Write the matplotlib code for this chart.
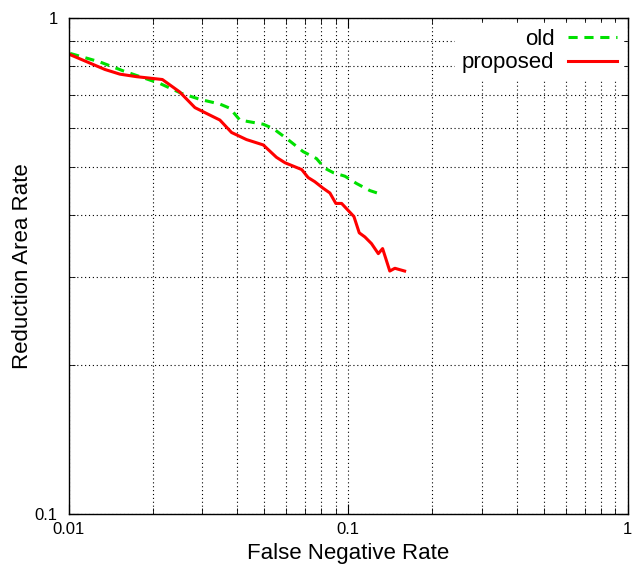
import matplotlib.pyplot as plt
from matplotlib.ticker import LogLocator, FixedLocator, NullFormatter, FixedFormatter

plt.rcParams['font.family'] = ['Liberation Sans', 'DejaVu Sans']

# old method
old_fnr = [0.0101, 0.0129, 0.01563, 0.0212, 0.0253, 0.0294, 0.0347, 0.0377, 0.0409,
           0.0496, 0.0538, 0.0601, 0.0689, 0.0769, 0.0824, 0.0883, 0.0972, 0.107,
           0.1194, 0.1315]
old_rar = [0.849, 0.816, 0.783, 0.738, 0.705, 0.686, 0.671, 0.658, 0.623,
           0.611, 0.599, 0.572, 0.538, 0.521, 0.498, 0.488, 0.480, 0.464,
           0.449, 0.441]

# proposed method
new_fnr = [0.01, 0.01345, 0.01522, 0.01746, 0.0216, 0.0249, 0.02825, 0.0315, 0.0347,
           0.0382, 0.0432, 0.0496, 0.0553, 0.0593, 0.0681, 0.0718, 0.0758, 0.0812,
           0.0859, 0.0902, 0.0946, 0.1047, 0.1094, 0.1146, 0.121, 0.128, 0.1326,
           0.1407, 0.1467, 0.159]
new_rar = [0.846, 0.788, 0.771, 0.762, 0.752, 0.710, 0.660, 0.640, 0.623,
           0.588, 0.569, 0.555, 0.524, 0.511, 0.495, 0.477, 0.468, 0.454,
           0.444, 0.423, 0.423, 0.398, 0.369, 0.362, 0.351, 0.335, 0.343,
           0.309, 0.313, 0.309]

fig = plt.figure(figsize=(6.38, 5.67), dpi=100)
ax = fig.add_axes([0.108, 0.0935, 0.876, 0.8745])

ax.plot(old_fnr, old_rar, color='#00e000', lw=2.2, dashes=(3, 2.2), label='old')
ax.plot(new_fnr, new_rar, color='#ff0000', lw=2.2, label='proposed')

ax.set_xscale('log')
ax.set_yscale('log')
ax.set_xlim(0.01, 1)
ax.set_ylim(0.1, 1)

ax.xaxis.set_major_locator(FixedLocator([0.01, 0.1, 1]))
ax.xaxis.set_major_formatter(FixedFormatter(['0.01', '0.1', '1']))
ax.yaxis.set_major_locator(FixedLocator([0.1, 1]))
ax.yaxis.set_major_formatter(FixedFormatter(['0.1', '1']))
ax.xaxis.set_minor_locator(LogLocator(base=10, subs=range(2, 10)))
ax.yaxis.set_minor_locator(LogLocator(base=10, subs=range(2, 10)))
ax.xaxis.set_minor_formatter(NullFormatter())
ax.yaxis.set_minor_formatter(NullFormatter())

ax.tick_params(which='both', direction='in', top=True, right=True, labelsize=12)
ax.tick_params(which='major', length=7)
ax.tick_params(which='minor', length=4)
ax.tick_params(axis='x', pad=6)
ax.tick_params(axis='y', pad=8)
ax.grid(True, which='both', color='black', ls=(0, (1, 2.5)), lw=0.8)

for s in ax.spines.values():
    s.set_linewidth(1.0)

ax.set_xlabel('False Negative Rate', fontsize=16)
ax.set_ylabel('Reduction Area Rate', fontsize=16)
ax.xaxis.set_label_coords(0.5, -0.058)
ax.yaxis.set_label_coords(-0.064, 0.5)

leg = ax.legend(loc='upper right', markerfirst=False, frameon=True, fontsize=16,
                handlelength=2.2, borderaxespad=0.2, handletextpad=0.6,
                labelspacing=0.1, fancybox=False, borderpad=0.3)
leg.get_frame().set_edgecolor('white')
leg.get_frame().set_facecolor('white')
leg.get_frame().set_alpha(1)

fig.savefig('out.png', dpi=100)
